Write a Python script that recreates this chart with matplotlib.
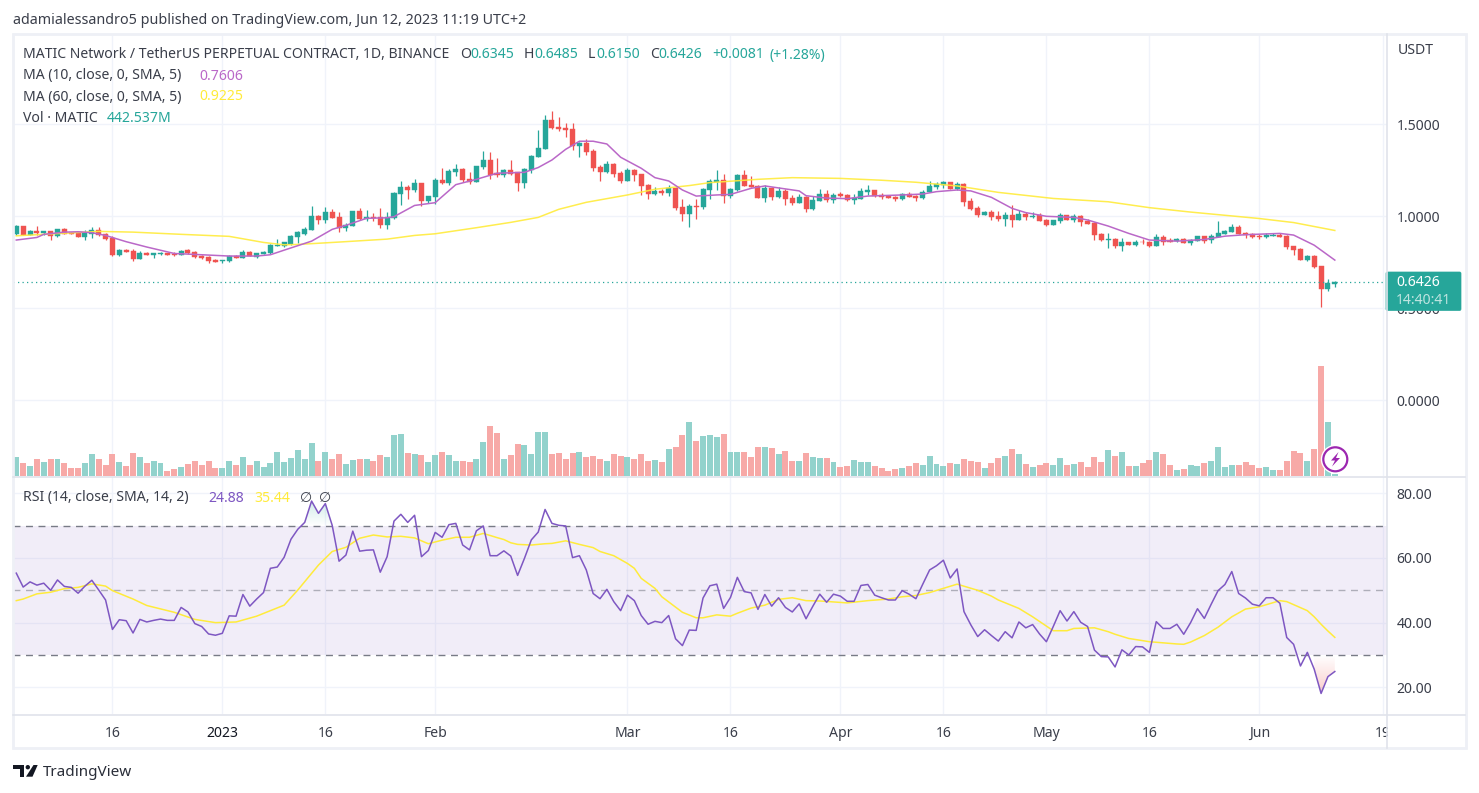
import numpy as np
import matplotlib
matplotlib.use("Agg")
import matplotlib.pyplot as plt
from matplotlib.patches import Circle, FancyBboxPatch, Polygon, Rectangle

W, H = 1479, 793
plt.rcParams['font.family'] = ['Noto Sans', 'DejaVu Sans']

GREEN = '#26a69a'
RED = '#ef5350'
PURPLE = '#7e57c2'
YELLOW = '#ffeb3b'
ORCHID = '#ba68c8'
GRID = '#f0f3fa'
BORDER = '#e0e3eb'
TEXT = '#3a3e4a'

# daily candles, first one is 2 Dec 2022, last one 12 Jun 2023
opens = [
    .903, .947, .900, .918, .907, .918, .892, .929, .909, .911, .887, .905, .923, .903, .882, .789,
    .816, .809, .767, .800, .791, .794, .800, .796, .789, .816, .805, .784, .778, .762, .756, .755,
    .784, .775, .805, .778, .796, .800, .838, .836, .851, .887, .905, .925, 1.003, .980, 1.023, .996,
    .934, .947, 1.029, .983, .996, .996, .952, .990, 1.121, 1.159, 1.143, 1.179, 1.081, 1.107, 1.197, 1.179,
    1.243, 1.259, 1.201, 1.186, 1.266, 1.306, 1.234, 1.225, 1.252, 1.239, 1.181, 1.250, 1.323, 1.366, 1.524, 1.486,
    1.481, 1.475, 1.383, 1.399, 1.355, 1.268, 1.241, 1.285, 1.236, 1.192, 1.252, 1.230, 1.170, 1.121, 1.137, 1.127,
    1.154, 1.050, 1.012, 1.054, 1.050, 1.143, 1.186, 1.197, 1.110, 1.143, 1.225, 1.170, 1.165, 1.099, 1.154, 1.105,
    1.137, 1.099, 1.072, 1.105, 1.039, 1.083, 1.121, 1.089, 1.121, 1.116, 1.090, 1.094, 1.132, 1.143, 1.116, 1.112,
    1.105, 1.094, 1.121, 1.110, 1.099, 1.132, 1.159, 1.170, 1.186, 1.148, 1.176, 1.081, 1.045, 1.007, 1.023, 1.001,
    .985, 1.007, .980, 1.012, .996, 1.007, .980, .952, .974, 1.007, .980, 1.001, .974, .963, .903, .872,
    .875, .836, .863, .843, .863, .860, .838, .885, .871, .865, .876, .854, .865, .892, .871, .887,
    .903, .914, .941, .909, .903, .892, .887, .894, .898, .892, .838, .822, .762, .784, .729, .604, .6345,
]
highs = [
    .951, .949, .925, .947, .920, .918, .929, .934, .916, .914, .925, .941, .940, .907, .892, .820,
    .822, .822, .809, .805, .802, .805, .802, .804, .818, .822, .809, .791, .784, .769, .760, .789,
    .789, .816, .813, .802, .811, .847, .874, .862, .898, .922, .943, 1.056, 1.007, 1.049, 1.039, 1.023,
    .961, 1.029, 1.045, 1.034, 1.016, 1.045, 1.021, 1.132, 1.192, 1.168, 1.203, 1.179, 1.112, 1.206, 1.263, 1.255,
    1.285, 1.263, 1.241, 1.274, 1.355, 1.350, 1.317, 1.257, 1.306, 1.239, 1.261, 1.332, 1.470, 1.551, 1.573, 1.540,
    1.508, 1.508, 1.404, 1.421, 1.366, 1.279, 1.301, 1.290, 1.246, 1.263, 1.257, 1.230, 1.176, 1.159, 1.148, 1.170,
    1.159, 1.094, 1.067, 1.094, 1.154, 1.203, 1.252, 1.230, 1.154, 1.230, 1.252, 1.219, 1.170, 1.170, 1.159, 1.159,
    1.148, 1.116, 1.121, 1.110, 1.110, 1.148, 1.143, 1.127, 1.132, 1.121, 1.121, 1.154, 1.170, 1.143, 1.127, 1.116,
    1.110, 1.127, 1.132, 1.116, 1.143, 1.192, 1.186, 1.192, 1.186, 1.186, 1.179, 1.098, 1.056, 1.029, 1.034, 1.029,
    1.023, 1.061, 1.034, 1.023, 1.023, 1.018, .985, .980, 1.018, 1.007, 1.012, 1.007, .985, .969, .909, .909,
    .880, .880, .863, .871, .876, .865, .903, .898, .882, .882, .882, .876, .892, .892, .903, .974,
    .927, .958, .952, .914, .909, .903, .909, .909, .909, .898, .838, .827, .789, .789, .729, .658, .6485,
]
lows = [
    .898, .898, .898, .900, .896, .871, .889, .902, .903, .887, .873, .883, .894, .873, .785, .784,
    .804, .756, .767, .789, .775, .789, .787, .784, .787, .796, .775, .769, .745, .751, .747, .753,
    .773, .773, .782, .773, .794, .796, .838, .833, .845, .856, .900, .925, .958, .963, .989, .914,
    .920, .945, .980, .972, .976, .938, .931, .987, 1.061, 1.094, 1.132, 1.056, 1.070, 1.067, 1.176, 1.172,
    1.221, 1.186, 1.177, 1.185, 1.259, 1.203, 1.216, 1.214, 1.226, 1.137, 1.154, 1.237, 1.323, 1.366, 1.475, 1.464,
    1.431, 1.363, 1.323, 1.334, 1.246, 1.192, 1.236, 1.214, 1.181, 1.192, 1.192, 1.116, 1.094, 1.116, 1.116, 1.110,
    1.034, .974, .941, .985, 1.039, 1.094, 1.143, 1.072, 1.099, 1.137, 1.165, 1.159, 1.099, 1.078, 1.089, 1.099,
    1.061, 1.061, 1.072, 1.023, 1.034, 1.083, 1.078, 1.072, 1.105, 1.083, 1.067, 1.094, 1.116, 1.105, 1.094, 1.099,
    1.083, 1.089, 1.105, 1.083, 1.094, 1.132, 1.148, 1.154, 1.148, 1.143, 1.058, 1.034, .996, 1.007, .980, .974,
    .947, .941, .980, .980, .990, .974, .947, .952, .963, .980, .969, .947, .958, .871, .865, .827,
    .827, .811, .843, .838, .849, .833, .838, .843, .860, .860, .854, .843, .865, .854, .854, .887,
    .903, .914, .903, .882, .882, .876, .882, .892, .887, .822, .789, .762, .756, .718, .506, .593, .6150,
]
closes = [
    .947, .898, .920, .907, .918, .894, .929, .905, .905, .889, .911, .923, .900, .878, .789, .816,
    .805, .767, .800, .791, .798, .798, .791, .789, .814, .800, .778, .775, .756, .753, .760, .784,
    .775, .805, .785, .798, .805, .843, .842, .858, .892, .914, .932, 1.001, .980, 1.023, .990, .934,
    .954, 1.029, .985, .996, .990, .952, .994, 1.127, 1.157, 1.143, 1.179, 1.083, 1.108, 1.197, 1.181, 1.246,
    1.257, 1.197, 1.185, 1.274, 1.306, 1.225, 1.223, 1.254, 1.230, 1.181, 1.257, 1.328, 1.372, 1.524, 1.481, 1.475,
    1.470, 1.383, 1.399, 1.350, 1.263, 1.241, 1.285, 1.230, 1.192, 1.252, 1.225, 1.165, 1.121, 1.137, 1.127, 1.154,
    1.045, 1.012, 1.056, 1.052, 1.148, 1.192, 1.197, 1.110, 1.148, 1.225, 1.165, 1.159, 1.099, 1.154, 1.105, 1.137,
    1.094, 1.072, 1.105, 1.039, 1.089, 1.121, 1.089, 1.116, 1.110, 1.089, 1.099, 1.137, 1.143, 1.110, 1.105, 1.099,
    1.094, 1.121, 1.105, 1.099, 1.132, 1.165, 1.176, 1.186, 1.148, 1.176, 1.079, 1.039, 1.007, 1.023, .996, .985,
    1.007, .980, 1.012, .996, 1.001, .974, .952, .980, 1.007, .980, 1.001, .969, .958, .898, .871, .875,
    .836, .863, .843, .860, .858, .838, .885, .863, .863, .876, .854, .871, .892, .865, .892, .909,
    .922, .941, .903, .898, .887, .887, .898, .898, .887, .833, .816, .762, .784, .724, .604, .640, .6426,
]

# volume in millions, no scale on the chart so only the last value is known
vol_m = [
    4350, 3000, 2325, 3900, 3225, 3900, 3900, 3000, 1875, 1875, 3000, 5025, 3900, 2550, 5025, 3225, 2325,
    5250, 4350, 3000, 3450, 3000, 1200, 1650, 2100, 2775, 3450, 2550, 3450, 1875, 1875, 3450, 2550, 4350,
    2550, 3450, 2100, 3000, 5475, 3225, 4125, 5925, 3900, 7500, 3450, 5475, 3900, 5025, 2775, 3675, 3900,
    3900, 3450, 4800, 4350, 9300, 9525, 5250, 5025, 4800, 3225, 4800, 5475, 4800, 3450, 3450, 3225, 3900,
    7725, 11325, 9750, 3900, 4800, 7275, 7050, 5025, 9975, 9975, 5025, 5250, 3900, 5250, 5475, 4350, 4575,
    3900, 3450, 5025, 4575, 4350, 3900, 5025, 3450, 3675, 3225, 6150, 6600, 9300, 12225, 7950, 9075, 9300,
    8850, 9525, 5475, 5475, 5475, 4350, 6600, 6600, 6375, 5025, 5700, 3450, 3450, 5250, 4350, 4125, 4125,
    3225, 2100, 2325, 3675, 3225, 3225, 2325, 1875, 1200, 1650, 1875, 2325, 3000, 2550, 4575, 2775, 2325,
    3000, 2775,
    3825, 3375, 3150, 1800, 2925, 4050, 4500, 6075, 4950, 2700, 2025, 2475, 2925, 2475, 4050, 2475, 2700,
    3150, 2025, 4275, 3150, 5850, 4500, 5400, 2250, 2250, 2925, 3600, 5400, 4950, 2475, 1350, 1575, 2475,
    2250, 2925, 3375, 6525, 2025, 2475, 2475, 3150, 2475, 1800, 2025, 1350, 1350, 3375, 5625, 5175, 3375,
    6075, 24750, 12150, 442.537,
]

# moving averages, read at the bends of the lines
ma10_bar = [0, 3, 4, 7, 9, 11, 13, 16, 19, 23, 27, 31, 35, 37, 39, 43, 46, 48, 51, 54, 55, 58, 61, 64, 67,
            70, 74, 76, 78, 80, 82, 84, 86, 88, 91, 93, 95, 97, 99, 102, 104, 107, 109, 114, 115, 118, 121,
            124, 129, 132, 134, 137, 139, 142, 145, 147, 150, 154, 156, 159, 162, 165, 169, 173, 176, 179,
            184, 186, 189, 192]
ma10_val = [.871, .885, .902, .914, .916, .911, .896, .862, .833, .798, .791, .784, .784, .791, .816, .865,
            .929, .951, .989, .992, .998, 1.059, 1.074, 1.172, 1.201, 1.234, 1.239, 1.265, 1.306, 1.364,
            1.408, 1.408, 1.393, 1.321, 1.261, 1.210, 1.192, 1.143, 1.110, 1.116, 1.119, 1.152, 1.165,
            1.138, 1.112, 1.099, 1.096, 1.110, 1.116, 1.121, 1.134, 1.143, 1.138, 1.103, 1.043, 1.020,
            1.000, .994, .980, .947, .907, .871, .865, .874, .892, .900, .907, .898, .843, .762]
ma60_bar = [0, 4, 12, 17, 24, 31, 36, 39, 41, 47, 54, 58, 61, 67, 72, 76, 79, 83, 89, 93, 98, 101, 108, 113,
            120, 126, 131, 137, 143, 151, 159, 165, 171, 181, 186, 192]
ma60_val = [.894, .902, .918, .914, .902, .891, .858, .845, .847, .860, .876, .896, .905, .938, .967, .994,
            1.038, 1.076, 1.116, 1.147, 1.167, 1.183, 1.201, 1.210, 1.206, 1.196, 1.185, 1.165, 1.130,
            1.097, 1.079, 1.047, 1.023, .988, .966, .923]

rsi = [
    55.3, 51.0, 52.6, 51.6, 52.2, 50.0, 53.2, 51.2, 50.9, 49.1, 51.3, 53.1, 50.1, 47.0, 37.9, 40.9, 40.6,
    36.8, 41.0, 40.2, 40.7, 41.1, 40.7, 40.7, 44.7, 43.3, 39.7, 38.8, 36.5, 36.1, 36.7, 42.1, 42.0, 48.7,
    45.1, 47.3, 49.3, 56.8, 57.2, 60.2, 65.8, 68.9, 71.0, 77.6, 73.8, 76.8, 70.1, 59.0, 60.9, 68.3, 62.1,
    62.4, 62.5, 55.6, 60.4, 71.4, 73.5, 71.0, 73.2, 60.4, 62.3, 67.9, 66.4, 70.3, 70.7, 64.0, 62.5, 68.4,
    69.9, 60.7, 60.7, 62.2, 60.6, 54.6, 59.9, 65.6, 68.0, 75.0, 70.7, 70.1, 69.9, 60.1, 60.7, 56.3, 49.0,
    47.4, 50.3, 46.5, 43.7, 48.5, 46.8, 42.2, 39.5, 40.4, 40.0, 42.2, 35.0, 32.9, 37.7, 37.6, 47.6, 51.4,
    51.9, 44.4, 47.8, 54.0, 49.6, 49.2, 44.1, 48.7, 45.1, 47.7, 44.7, 43.3, 45.8, 41.2, 45.1, 48.8, 46.3,
    48.8, 48.2, 46.6, 46.6, 51.5, 51.8, 48.5, 47.7, 47.0, 47.0, 49.9, 48.8, 47.4, 51.9, 56.3, 57.6, 59.3,
    53.8, 56.6, 43.4, 39.3, 35.7, 37.8, 36.0, 34.3, 37.2, 35.3, 40.2, 38.4, 39.4, 36.5, 34.1, 38.8, 43.7,
    40.5, 43.4, 40.1, 38.8, 31.5, 29.5, 29.4, 26.3, 31.6, 30.0, 32.6, 32.5, 30.8, 40.3, 38.2, 38.2, 39.5,
    36.4, 40.0, 44.3, 41.3, 45.7, 49.9, 51.8, 55.8, 49.0, 47.6, 45.7, 45.2, 47.7, 47.7, 46.0, 35.4, 33.3,
    26.6, 30.8, 25.6, 18.1, 23.3, 24.88,
]
rsi_ma_bar = [0, 1, 3, 5, 7, 9, 11, 13, 14, 17, 19, 23, 26, 29, 32, 35, 39, 41, 44, 46, 48, 50, 52, 54, 56, 58,
              60, 62, 64, 66, 68, 70, 71, 72, 73, 75, 77, 78, 80, 82, 84, 85, 87, 89, 90, 91, 93, 94, 95, 97,
              99, 100, 102, 104, 105, 107, 109, 111, 113, 115, 117, 119, 121, 124, 127, 129, 131, 133, 135,
              137, 140, 142, 143, 146, 148, 151, 153, 154, 157, 159, 160, 162, 165, 169, 170, 171, 173, 175,
              177, 179, 181, 184, 185, 188, 189, 190, 191, 192]
rsi_ma_val = [46.8, 47.3, 48.9, 49.4, 50.5, 50.9, 52.0, 51.3, 49.9, 47.3, 45.3, 43.2, 41.0, 40.0, 40.2, 42.0,
              45.4, 50.1, 57.8, 62.0, 63.3, 66.1, 67.1, 66.5, 66.7, 66.2, 64.4, 65.5, 66.4, 66.4, 67.6, 66.3,
              65.7, 64.7, 64.2, 64.0, 64.4, 64.5, 65.3, 64.2, 63.2, 62.0, 60.7, 58.3, 56.8, 53.7, 50.6, 48.0,
              46.4, 43.2, 41.5, 41.5, 42.4, 42.0, 42.9, 44.5, 45.4, 47.2, 47.7, 46.8, 46.7, 46.4, 46.1, 46.8,
              47.3, 48.0, 48.4, 49.3, 50.6, 51.9, 50.0, 48.2, 47.0, 44.4, 41.8, 37.5, 37.5, 38.2, 38.4, 37.2,
              36.4, 35.1, 34.1, 33.4, 33.3, 34.0, 36.0, 38.6, 41.8, 44.2, 44.9, 46.8, 46.5, 43.7, 41.8, 39.5,
              37.4, 35.44]

tick_bars = [14, 30, 45, 61, 89, 104, 120, 135, 150, 165, 181, 199]
tick_labels = ['16', '2023', '16', 'Feb', 'Mar', '16', 'Apr', '16', 'May', '16', 'Jun', '19']
price_ticks = [0.0, 0.5, 1.0, 1.5]
rsi_ticks = [20, 40, 60, 80]


def axes_px(left, top, right, bottom):
    return fig.add_axes([left / W, 1 - bottom / H, (right - left) / W, (bottom - top) / H])


opens, highs, lows, closes = map(np.array, (opens, highs, lows, closes))
vol_m, rsi = np.array(vol_m), np.array(rsi)
bars = np.arange(len(closes))
up = closes >= opens
candle_col = np.where(up, GREEN, RED)
vol_col = np.where(up, '#92d2cc', '#f7a9a7')
xlim = (-0.48, 199.6)

fig = plt.figure(figsize=(W / 100, H / 100), dpi=100, facecolor='white')

ax = axes_px(13, 34, 1387, 476)
ax.grid(True, color=GRID, lw=1)
ax.set_axisbelow(True)
ax.vlines(bars, lows, highs, colors=candle_col, lw=0.9)
ax.bar(bars, np.abs(closes - opens), bottom=np.minimum(opens, closes), width=0.73,
       color=candle_col, edgecolor=candle_col, linewidth=0.3)
ax.plot(ma60_bar, ma60_val, color=YELLOW, lw=1.1, alpha=0.9)
ax.plot(ma10_bar, ma10_val, color=ORCHID, lw=1.1)
ax.axhline(closes[-1], color=GREEN, lw=0.9, ls=(0, (1, 2.6)))
ax.set_xlim(xlim)
ax.set_ylim((400.3 - 476) / 184, (400.3 - 34) / 184)
ax.set_xticks(tick_bars)
ax.set_yticks(price_ticks, [f'{t:.4f}' for t in price_ticks])
ax.yaxis.tick_right()
ax.tick_params(length=0, labelbottom=False)
ax.tick_params(axis='y', pad=7, labelsize=10.1, labelcolor=TEXT)
for s in ax.spines.values():
    s.set_visible(False)

# volume shares the price pane, over its grid
ax_vol = axes_px(13, 34, 1387, 476)
ax_vol.patch.set_alpha(0)
ax_vol.bar(bars, vol_m, width=0.87, color=vol_col, linewidth=0)
ax_vol.set_xlim(xlim)
ax_vol.set_ylim(0, 442 * 225)
ax_vol.set_xticks([])
ax_vol.set_yticks([])
for s in ax_vol.spines.values():
    s.set_visible(False)

# RSI pane
ax_rsi = axes_px(13, 477, 1387, 714.3)
ax_rsi.set_xlim(xlim)
ax_rsi.set_ylim(11.65, 85.04)
ax_rsi.axhspan(30, 70, color=PURPLE, alpha=0.1, lw=0)
ax_rsi.grid(True, color=GRID, lw=1)
ax_rsi.set_axisbelow(True)
ax_rsi.axhline(70, color='#787b86', lw=1, ls=(0, (5, 4)))
ax_rsi.axhline(50, color='#787b86', lw=1, ls=(0, (5, 4)), alpha=0.55)
ax_rsi.axhline(30, color='#787b86', lw=1, ls=(0, (5, 4)))

over = ax_rsi.fill_between(bars[42:47], rsi[42:47], 70, color='none', lw=0)
grad_up = ax_rsi.imshow(np.linspace(0.22, 0, 64)[:, None, None] * [[[0, 0, 0, 1]]] + [[[0.15, 0.65, 0.6, 0]]],
                        extent=(41, 47, 70, 78), aspect='auto', origin='upper', zorder=1.5)
grad_up.set_clip_path(over.get_paths()[0], ax_rsi.transData)
under = ax_rsi.fill_between(bars[189:], rsi[189:], 30, color='none', lw=0)
grad_low = ax_rsi.imshow(np.linspace(0, 0.3, 64)[:, None, None] * [[[0, 0, 0, 1]]] + [[[0.94, 0.33, 0.31, 0]]],
                         extent=(188, 193, 18, 30), aspect='auto', origin='upper', zorder=1.5)
grad_low.set_clip_path(under.get_paths()[0], ax_rsi.transData)
ax_rsi.set_xlim(xlim)
ax_rsi.set_ylim(11.65, 85.04)

ax_rsi.plot(rsi_ma_bar, rsi_ma_val, color=YELLOW, lw=1.1, zorder=3)
ax_rsi.plot(bars, rsi, color=PURPLE, lw=1.1, zorder=4)
ax_rsi.set_yticks(rsi_ticks, [f'{t:.2f}' for t in rsi_ticks])
ax_rsi.yaxis.tick_right()
ax_rsi.set_xticks(tick_bars, tick_labels)
ax_rsi.tick_params(length=0, labelsize=10.1, labelcolor=TEXT)
ax_rsi.tick_params(axis='y', pad=7)
ax_rsi.tick_params(axis='x', pad=8.5)
ax_rsi.get_xticklabels()[1].set_fontweight('bold')
ax_rsi.get_xticklabels()[1].set_color('#131722')
for s in ax_rsi.spines.values():
    s.set_visible(False)

# overlay in pixel coordinates for the frame, legends and badges
ov = fig.add_axes([0, 0, 1, 1], zorder=10)
ov.set_xlim(0, W)
ov.set_ylim(H, 0)
ov.axis('off')
ov.patch.set_alpha(0)
ov.add_patch(Rectangle((1388, 716), 76, 31, color='white', lw=0))
ov.add_patch(Rectangle((13, 34), 1452.5, 714, fill=False, ec='#eef0f6', lw=2))
ov.plot([13, 1465], [476.5, 476.5], color=BORDER, lw=1.2)
ov.plot([13, 1465], [714.5, 714.5], color=BORDER, lw=1.2)
ov.plot([1386.8, 1386.8], [34, 748], color=BORDER, lw=1.2)

def txt(x, y, s, color=TEXT, size=10.1, **kw):
    ov.text(x, y + 1, s, color=color, fontsize=size, va='center', ha=kw.pop('ha', 'left'), **kw)


txt(13, 19, 'adamialessandro5 published on TradingView.com, Jun 12, 2023 11:19 UTC+2', size=10.3)
txt(23, 54, 'MATIC Network / TetherUS PERPETUAL CONTRACT, 1D, BINANCE')
for x, s in [(460.5, 'O'), (524, 'H'), (588, 'L'), (650, 'C')]:
    txt(x, 54, s)
for x, s in [(470.5, '0.6345'), (534, '0.6485'), (596, '0.6150'), (658, '0.6426'),
             (712.5, '+0.0081'), (770, '(+1.28%)')]:
    txt(x, 54, s, color=GREEN)
txt(23, 75, 'MA (10, close, 0, SMA, 5)')
txt(199.5, 75, '0.7606', color=ORCHID)
txt(23, 96, 'MA (60, close, 0, SMA, 5)')
txt(199.5, 96, '0.9225', color=YELLOW)
txt(23, 117, 'Vol · MATIC')
txt(107, 117, '442.537M', color=GREEN)
txt(23, 497, 'RSI (14, close, SMA, 14, 2)')
txt(208, 497, '24.88', color=PURPLE)
txt(254, 497, '35.44', color=YELLOW)
txt(300, 497, '∅')
txt(319, 497, '∅')
txt(1398, 50, 'USDT')

# last price badge
ov.add_patch(FancyBboxPatch((1386, 272), 75, 38.5, boxstyle='round,pad=0,rounding_size=1.5', fc=GREEN, ec=GREEN, lw=0.5))
txt(1396, 282, f'{closes[-1]:.4f}', color='white', fontweight='bold')
txt(1396, 300, '14:40:41', color='#bfe4e0')

# lightning mark on top of the last volume bars
ov.add_patch(Circle((1335.3, 459.3), 14.5, fc='white', ec='none'))
ov.add_patch(Circle((1335.3, 459.3), 12, fc='white', ec='#9c27b0', lw=1.6))
ov.add_patch(Polygon([(1338.5, 452), (1331, 460.5), (1335, 460.5), (1332, 466.5), (1340, 458), (1336, 458)],
                     fc='#9c27b0', ec='none'))

# logo
ov.add_patch(Polygon([(13.3, 765), (24.3, 765), (24.3, 776.7), (20, 776.7), (20, 769.3), (13.3, 769.3)],
                     fc='#131722', ec='none'))
ov.add_patch(Circle((27.8, 767.2), 2.2, fc='#131722', ec='none'))
ov.add_patch(Polygon([(33.5, 765), (37.7, 765), (32.5, 776.7), (26, 776.7)], fc='#131722', ec='none'))
txt(42.5, 771, 'TradingView', color='#2a2e39', size=11)

fig.savefig('out.png', dpi=100)
